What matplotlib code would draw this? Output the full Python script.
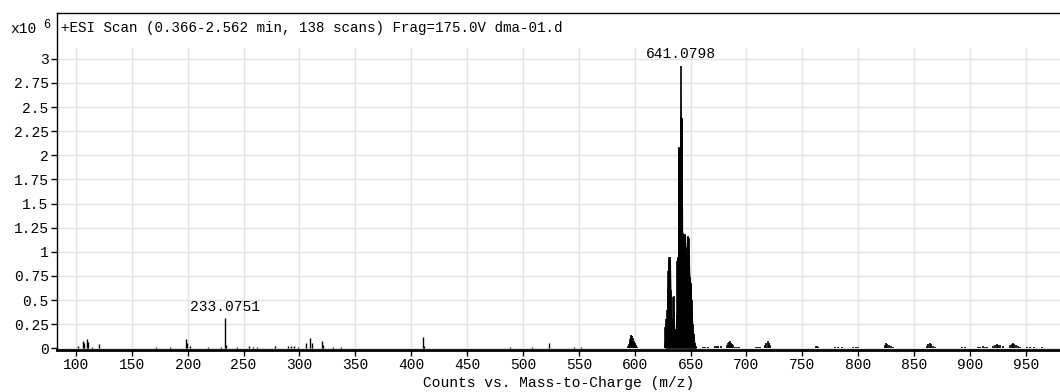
import matplotlib
matplotlib.use('Agg')
import matplotlib.pyplot as plt

plt.rcParams['font.family'] = ['Liberation Mono', 'DejaVu Sans Mono']

# Spectrum: m/z and counts (x10^6)
# isolated sticks below 600
stick_mz = [102.0, 106.0, 107.5, 109.6, 110.5, 114.0, 120.6, 171.6, 184.4, 198.5, 199.7,
            202.0, 218.5, 230.0, 233.0751, 234.5, 244.0, 254.8, 258.0, 262.3, 278.0,
            290.0, 292.5, 295.0, 298.5, 305.6, 309.5, 311.0, 320.0, 321.5, 330.4,
            337.3, 410.4, 411.5, 488.0, 508.0, 522.9, 545.5, 552.0]
stick_int = [0.024, 0.08, 0.05, 0.10, 0.07, 0.012, 0.04, 0.012, 0.012, 0.10, 0.05,
             0.025, 0.012, 0.012, 0.314, 0.035, 0.012, 0.025, 0.012, 0.012, 0.025,
             0.025, 0.025, 0.02, 0.012, 0.05, 0.11, 0.05, 0.08, 0.035, 0.012,
             0.012, 0.114, 0.02, 0.01, 0.012, 0.058, 0.01, 0.012]

# profile-like regions (0.5 m/z spacing)
prof_mz = [594.5, 595.0, 595.5, 596.0, 596.5, 597.0, 597.5, 598.0, 598.5, 599.0, 599.5,
           600.0, 600.5, 601.0, 601.5, 602.0,
           627.0, 627.5, 628.0, 628.5, 629.0, 629.5, 630.0, 630.5, 631.0, 631.5, 632.0,
           632.5, 633.0, 633.5, 634.0, 634.5, 635.0, 635.5, 636.0, 636.5, 637.0, 637.5,
           638.0, 638.5, 639.0, 639.5, 640.0, 640.5, 641.0798, 641.5, 642.0, 642.5,
           643.0, 643.5, 644.0, 644.5, 645.0, 645.5, 646.0, 646.5, 647.0, 647.5, 648.0,
           648.5, 649.0, 649.5, 650.0, 650.5, 651.0, 651.5, 652.0, 652.5, 653.0, 653.5,
           654.0, 654.5, 655.0,
           661.5, 663.0, 666.0, 672.0, 673.5, 675.0, 677.0, 682.5, 683.5, 684.5, 685.5,
           686.5, 687.5, 688.0, 690.0, 691.5, 693.0, 709.0, 710.5, 712.0, 717.0, 718.0,
           719.0, 720.0, 721.0, 762.0, 763.0, 764.5, 779.5, 782.0, 785.5, 795.6, 798.0,
           800.0, 824.0, 825.0, 826.0, 827.5, 829.0, 831.0, 861.6, 863.0, 864.0, 865.5,
           867.0, 869.0, 893.0, 896.0, 907.5, 909.5, 911.5, 913.5, 915.6, 921.0, 922.5,
           924.0, 925.5, 927.0, 930.0, 936.0, 937.5, 938.5, 939.5, 941.0, 943.0, 945.0,
           951.0, 954.0, 957.0, 965.0]
prof_int = [0.02, 0.04, 0.07, 0.10, 0.12, 0.14, 0.13, 0.10, 0.11, 0.08, 0.06,
            0.05, 0.04, 0.03, 0.02, 0.01,
            0.05, 0.22, 0.25, 0.30, 0.40, 0.62, 0.80, 0.93, 0.95, 0.90, 0.95,
            0.60, 0.30, 0.28, 0.30, 0.53, 0.54, 0.30, 0.20, 0.19, 0.19, 0.35,
            0.90, 0.95, 0.94, 2.08, 2.09, 2.08, 2.93, 2.40, 2.39, 2.38,
            1.19, 1.18, 0.88, 1.00, 1.18, 1.17, 1.05, 0.88, 0.95, 1.16, 1.15,
            1.14, 0.90, 0.74, 0.68, 0.66, 0.50, 0.40, 0.25, 0.16, 0.15, 0.10,
            0.05, 0.02, 0.01,
            0.01, 0.012, 0.01, 0.02, 0.025, 0.02, 0.025, 0.03, 0.05, 0.07, 0.08,
            0.06, 0.04, 0.03, 0.015, 0.012, 0.01, 0.015, 0.012, 0.01, 0.03, 0.05,
            0.08, 0.06, 0.03, 0.02, 0.025, 0.015, 0.012, 0.01, 0.012, 0.012, 0.01,
            0.012, 0.03, 0.05, 0.045, 0.03, 0.02, 0.01, 0.02, 0.04, 0.05, 0.04,
            0.025, 0.01, 0.012, 0.012, 0.012, 0.015, 0.02, 0.015, 0.012, 0.02, 0.03,
            0.045, 0.035, 0.03, 0.02, 0.03, 0.04, 0.05, 0.045, 0.03, 0.02, 0.012,
            0.012, 0.01, 0.012, 0.01]

peak_labels = [233.0751, 641.0798]

xticks = [100, 150, 200, 250, 300, 350, 400, 450, 500, 550, 600, 650, 700, 750, 800, 850, 900, 950]
yticks = [0, 0.25, 0.5, 0.75, 1, 1.25, 1.5, 1.75, 2, 2.25, 2.5, 2.75, 3]
ytick_labels = ['0', '0.25', '0.5', '0.75', '1', '1.25', '1.5', '1.75', '2', '2.25', '2.5', '2.75', '3']

title = '+ESI Scan (0.366-2.562 min, 138 scans) Frag=175.0V dma-01.d'
xlabel = 'Counts vs. Mass-to-Charge (m/z)'

fig = plt.figure(figsize=(10.6, 3.92), dpi=100)
ax = fig.add_axes([57 / 1060, 42 / 392, 1003 / 1060, 337 / 392])

ax.set_xlim(83.0, 980.7)
ax.set_ylim(-0.0176, 3.474)
grid_top = 3.111

# grid
for t in yticks:
    ax.axhline(t, color='#e3e3e3', lw=1.0, zorder=0)
ax.vlines(xticks, -0.0176, grid_top, color='#e3e3e3', lw=1.0, zorder=0)

# spectrum
ax.vlines(stick_mz, 0, stick_int, color='black', lw=1.0, zorder=3)
ax.vlines(prof_mz, 0, prof_int, color='black', lw=1.2, zorder=3)
ax.fill_between(prof_mz[16:73], 0, prof_int[16:73], color='black', lw=0, zorder=2)

allmz = stick_mz + prof_mz
allint = stick_int + prof_int
for p in peak_labels:
    h = allint[allmz.index(p)]
    ax.annotate('%.4f' % p, (p, h), xytext=(0, 3), textcoords='offset points',
                ha='center', va='bottom', fontsize=10.5)

ax.set_xticks(xticks)
ax.set_yticks(yticks)
ax.set_yticklabels(ytick_labels)
ax.tick_params(axis='both', direction='out', length=4, width=1, labelsize=10.5, pad=2)
ax.tick_params(axis='x', pad=2)

ax.spines['right'].set_visible(False)
ax.spines['bottom'].set_linewidth(2)
ax.spines['left'].set_linewidth(1)
ax.spines['top'].set_linewidth(1)

ax.text(4 / 1003, (350 - 28) / 337, title, transform=ax.transAxes,
        ha='left', va='center', fontsize=10.2)
ax.set_xlabel(xlabel, fontsize=10.5, labelpad=3)

fig.text(10 / 1060, 1 - 29 / 392, 'x10', ha='left', va='center', fontsize=10.5)
fig.text(43 / 1060, 1 - 25 / 392, '6', ha='left', va='center', fontsize=8.5)

fig.savefig('out.png', dpi=100)
